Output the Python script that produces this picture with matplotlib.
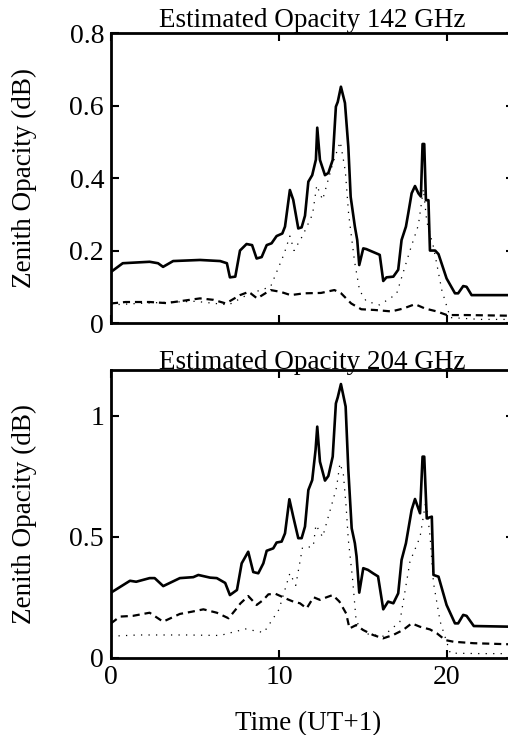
import matplotlib
matplotlib.use("Agg")
import matplotlib.pyplot as plt

plt.rcParams['font.family'] = ['Liberation Serif', 'DejaVu Serif']

# 142 GHz panel
t_142 = [0, 0.7, 2.3, 2.8, 3.1, 3.7, 5.3, 6.5, 6.9, 7.08, 7.4, 7.68, 8.07, 8.4, 8.67, 8.97,
         9.27, 9.56, 9.86, 10.2, 10.36, 10.65, 10.85, 11.15, 11.35, 11.55, 11.75, 11.98, 12.2,
         12.28, 12.44, 12.74, 12.94, 13.2, 13.39, 13.5, 13.69, 13.93, 14.13, 14.27, 14.52, 14.66,
         14.78, 15.02, 15.2, 15.91, 16.0, 16.21, 16.4, 16.81, 17.1, 17.3, 17.56, 17.7, 17.9, 18.1,
         18.3, 18.45, 18.55, 18.65, 18.75, 18.9, 18.99, 19.3, 19.5, 19.98, 20.48, 20.67, 20.97,
         21.17, 21.47, 24]
total_142 = [0.141, 0.165, 0.169, 0.165, 0.155, 0.171, 0.174, 0.171, 0.165, 0.126, 0.128, 0.2,
             0.218, 0.215, 0.178, 0.182, 0.215, 0.22, 0.24, 0.247, 0.266, 0.367, 0.34, 0.261,
             0.264, 0.296, 0.39, 0.408, 0.451, 0.539, 0.45, 0.408, 0.414, 0.45, 0.597, 0.61,
             0.652, 0.607, 0.486, 0.348, 0.266, 0.229, 0.16, 0.206, 0.204, 0.19, 0.188, 0.116,
             0.126, 0.128, 0.147, 0.229, 0.266, 0.303, 0.358, 0.378, 0.358, 0.349, 0.494, 0.494,
             0.339, 0.339, 0.2, 0.2, 0.19, 0.123, 0.082, 0.082, 0.102, 0.1, 0.077, 0.077]

t_dash_142 = [0, 0.87, 2.3, 3.3, 5.3, 6.1, 6.84, 7.68, 8.2, 8.7, 9.5, 10.1, 10.7, 11.5, 12.5,
              13.3, 13.7, 14.3, 14.9, 15.7, 16.7, 17.4, 18.1, 18.7, 19.4, 20.0, 21.2, 24]
dash_142 = [0.054, 0.058, 0.058, 0.055, 0.068, 0.064, 0.054, 0.077, 0.086, 0.068, 0.091, 0.086,
            0.077, 0.082, 0.083, 0.091, 0.082, 0.054, 0.038, 0.036, 0.032, 0.04, 0.052, 0.04,
            0.032, 0.022, 0.022, 0.02]

t_dot_142 = [0, 2, 5, 7, 8.2, 9.5, 10.3, 10.65, 10.9, 11.4, 12.0, 12.25, 12.6, 13.2, 13.65,
             13.95, 14.15, 14.5, 14.8, 15.2, 16.0, 17.0, 17.8, 18.3, 18.6, 18.8, 19.2, 19.7,
             20.2, 22, 24]
dot_142 = [0.05, 0.055, 0.06, 0.05, 0.08, 0.1, 0.19, 0.24, 0.2, 0.24, 0.3, 0.38, 0.34, 0.44,
           0.5, 0.42, 0.3, 0.17, 0.09, 0.06, 0.05, 0.08, 0.2, 0.27, 0.37, 0.28, 0.21, 0.09,
           0.015, 0.01, 0.01]

# 204 GHz panel
t_204 = [0, 1.13, 1.5, 2.3, 2.6, 3.11, 4.1, 4.9, 5.2, 5.9, 6.3, 6.8, 7.08, 7.5, 7.78, 8.17,
         8.47, 8.77, 9.07, 9.27, 9.66, 9.86, 10.16, 10.36, 10.62, 10.85, 11.15, 11.35, 11.55,
         11.75, 11.98, 12.18, 12.28, 12.44, 12.74, 12.94, 13.2, 13.39, 13.5, 13.69, 13.97,
         14.13, 14.33, 14.52, 14.62, 14.78, 15.02, 15.3, 15.6, 15.9, 16.21, 16.5, 16.81, 17.1,
         17.3, 17.56, 17.9, 18.1, 18.4, 18.55, 18.65, 18.8, 19.1, 19.2, 19.5, 19.98, 20.48,
         20.67, 20.97, 21.17, 21.6, 24]
total_204 = [0.27, 0.319, 0.315, 0.33, 0.33, 0.297, 0.33, 0.334, 0.343, 0.332, 0.33, 0.31,
             0.26, 0.281, 0.391, 0.439, 0.355, 0.35, 0.391, 0.443, 0.453, 0.477, 0.481, 0.515,
             0.656, 0.584, 0.495, 0.495, 0.543, 0.694, 0.735, 0.86, 0.956, 0.811, 0.733, 0.752,
             0.832, 1.052, 1.077, 1.132, 1.039, 0.777, 0.536, 0.474, 0.42, 0.27, 0.371, 0.364,
             0.35, 0.337, 0.201, 0.233, 0.226, 0.267, 0.405, 0.474, 0.612, 0.657, 0.598, 0.832,
             0.832, 0.577, 0.584, 0.343, 0.336, 0.219, 0.143, 0.143, 0.178, 0.174, 0.132, 0.129]

t_dash_204 = [0, 0.53, 1.3, 2.3, 3.1, 4.1, 4.8, 5.5, 6.3, 7.0, 7.4, 7.7, 8.17, 8.67, 9.07,
              9.37, 9.8, 10.5, 10.85, 11.25, 11.65, 12.06, 12.44, 12.84, 13.2, 13.6, 14.0,
              14.2, 14.6, 15.0, 15.6, 16.2, 16.8, 17.4, 17.9, 18.4, 18.99, 19.4, 19.9, 20.4,
              21.6, 24]
dash_204 = [0.143, 0.171, 0.174, 0.187, 0.15, 0.182, 0.191, 0.201, 0.187, 0.164, 0.198, 0.225,
            0.256, 0.219, 0.24, 0.263, 0.265, 0.243, 0.233, 0.226, 0.205, 0.251, 0.24, 0.251,
            0.26, 0.233, 0.184, 0.122, 0.136, 0.116, 0.095, 0.081, 0.095, 0.116, 0.143, 0.129,
            0.118, 0.102, 0.074, 0.067, 0.061, 0.056]

t_dot_204 = [0, 1.6, 2.7, 4.5, 6.5, 8.0, 9.1, 10.0, 10.65, 11.0, 11.4, 12.04, 12.2, 12.6,
             13.43, 13.63, 13.83, 14.0, 14.13, 14.38, 14.6, 15.2, 16.2, 17.2, 17.8, 18.4,
             18.75, 19.0, 19.2, 19.6, 20.2, 22, 24]
dot_204 = [0.09, 0.095, 0.095, 0.095, 0.093, 0.12, 0.105, 0.2, 0.35, 0.3, 0.456, 0.46, 0.55,
           0.5, 0.705, 0.804, 0.763, 0.625, 0.488, 0.329, 0.15, 0.1, 0.09, 0.15, 0.398, 0.5,
           0.65, 0.5, 0.31, 0.15, 0.02, 0.018, 0.018]

yt_142 = [0, 0.2, 0.4, 0.6, 0.8]
yl_142 = ['0', '0.2', '0.4', '0.6', '0.8']
yt_204 = [0, 0.5, 1]
yl_204 = ['0', '0.5', '1']
xt = [0, 10, 20]


fig = plt.figure(figsize=(5.08, 7.35), dpi=100)
ax1 = fig.add_axes([0.2185, 0.5605, 0.7935, 0.3945])
ax2 = fig.add_axes([0.2185, 0.1048, 0.7935, 0.3918])

panels = [
    (ax1, t_142, total_142, t_dash_142, dash_142, t_dot_142, dot_142, 0.8, yt_142, yl_142,
     'Estimated Opacity 142 GHz'),
    (ax2, t_204, total_204, t_dash_204, dash_204, t_dot_204, dot_204, 1.19, yt_204, yl_204,
     'Estimated Opacity 204 GHz'),
]

for ax, t, tot, td, dsh, tdo, dt, ymax, yt, yl, title in panels:
    ax.plot(tdo, dt, color='black', lw=0.9, linestyle=(0, (1, 5)))
    ax.plot(td, dsh, color='black', lw=1.6, linestyle=(0, (3.2, 2.2)))
    ax.plot(t, tot, color='black', lw=1.9)
    ax.set_xlim(0, 24)
    ax.set_ylim(0, ymax)
    ax.set_yticks(yt)
    ax.set_yticklabels(yl)
    ax.set_xticks(xt)
    ax.tick_params(direction='in', length=6, width=1.5, labelsize=20,
                   top=True, right=True, pad=5)
    for s in ax.spines.values():
        s.set_linewidth(2)
    ax.set_title(title, fontsize=19.5, pad=1)
    ax.set_ylabel('Zenith Opacity (dB)', fontsize=19.5)
    ax.yaxis.set_label_coords(-0.183, 0.5)

ax1.tick_params(labelbottom=False)
ax2.set_xlabel('Time (UT+1)', fontsize=19.5)
ax2.xaxis.set_label_coords(0.49, -0.185)

plt.savefig('out.png', dpi=100)
